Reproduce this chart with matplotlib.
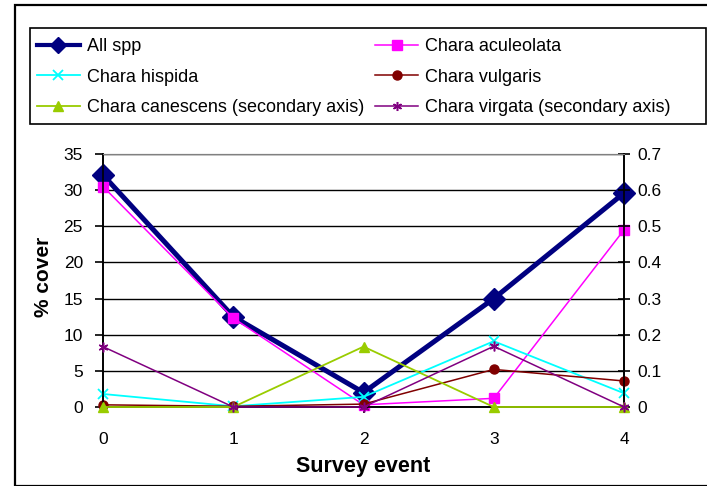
import numpy as np
import matplotlib
matplotlib.use("Agg")
import matplotlib.pyplot as plt
from matplotlib.patches import Rectangle
from matplotlib.lines import Line2D
from matplotlib.ticker import MultipleLocator, FuncFormatter

plt.rcParams['font.family'] = ['Liberation Sans', 'DejaVu Sans']

# survey events
survey = [0, 1, 2, 3, 4]

# % cover, primary axis
all_spp = [32.1, 12.5, 2.0, 15.0, 29.6]
aculeolata = [30.5, 12.3, 0.3, 1.2, 24.5]
hispida = [1.8, 0.1, 1.4, 9.1, 1.9]
vulgaris = [0.3, 0.1, 0.4, 5.2, 3.6]

# % cover, secondary axis
canescens = [0.0, 0.0, 0.167, 0.0, 0.0]
virgata = [0.167, 0.0, 0.0, 0.168, 0.0]

W, H = 707, 486
fig = plt.figure(figsize=(W / 100, H / 100), dpi=100)
ax = fig.add_axes([103 / W, 1 - 407 / H, (624 - 103) / W, (407 - 154) / H])
ax2 = ax.twinx()

# outer chart border and legend box
fig.patches.append(Rectangle((15 / W, 0.5 / H), 1.0, 1 - 5.5 / H, transform=fig.transFigure,
                             fill=False, edgecolor='black', linewidth=1.6))
fig.patches.append(Rectangle((30 / W, 1 - 124 / H), (706 - 30) / W, (124 - 28) / H,
                             transform=fig.transFigure, fill=False, edgecolor='black',
                             linewidth=1.2))

styles = [
    dict(color='#000080', lw=3.6, marker='D', ms=11, label='All spp'),
    dict(color='#FF00FF', lw=1.1, marker='s', ms=6.5, label='Chara aculeolata'),
    dict(color='#00FFFF', lw=1.3, marker='x', ms=6.5, mew=1.3, label='Chara hispida'),
    dict(color='#800000', lw=1.1, marker='o', ms=6.5, label='Chara vulgaris'),
    dict(color='#99CC00', lw=1.3, marker='^', ms=7, label='Chara canescens (secondary axis)'),
    dict(color='#800080', lw=1.1, marker=(6, 2, 0), ms=7, mew=1.1,
         label='Chara virgata (secondary axis)'),
]
series = [all_spp, aculeolata, hispida, vulgaris, canescens, virgata]
axes_for = [ax, ax, ax, ax, ax2, ax2]

for i, (vals, st, a) in enumerate(zip(series, styles, axes_for)):
    a.plot(survey, vals, clip_on=False, zorder=3 if i == 0 else 4, **st)

ax.set_xlim(0, 4)
ax.set_ylim(0, 35)
ax2.set_ylim(0, 0.7)
ax.xaxis.set_major_locator(MultipleLocator(1))
ax.yaxis.set_major_locator(MultipleLocator(5))
ax2.yaxis.set_major_locator(MultipleLocator(0.1))
ax2.yaxis.set_major_formatter(FuncFormatter(lambda v, p: '%g' % round(v, 2)))

ax.grid(axis='y', color='black', lw=1.0)
ax.set_axisbelow(True)
for a in (ax, ax2):
    a.spines['top'].set_color('#808080')
    a.spines['left'].set_linewidth(1.2)
    a.spines['right'].set_linewidth(1.2)
    a.spines['bottom'].set_linewidth(1.2)
    a.set_facecolor('none')

ax.tick_params(axis='y', direction='out', length=5.8, width=1.2, pad=8.6, labelsize=12.5)
ax.tick_params(axis='x', direction='out', length=4, width=1.2, pad=14, labelsize=12.5)
ax2.tick_params(axis='y', direction='inout', length=8.6, width=1.2, pad=5, labelsize=12.5)

ax.set_xlabel('Survey event', fontsize=15.5, fontweight='bold')
ax.xaxis.set_label_coords(0.5, -0.195)
ax.set_ylabel('% cover', fontsize=15, fontweight='bold')
ax.yaxis.set_label_coords(-0.096, 0.514)

# legend proxies with smaller markers, filled row by row
proxy = []
for st in styles:
    kw = dict(st)
    kw['ms'] = 8 if kw['marker'] == 'D' else 6.5
    if kw['marker'] == 'D':
        kw['lw'] = 3.0
    proxy.append(Line2D([], [], **kw))
order = [0, 2, 4, 1, 3, 5]
leg = fig.legend([proxy[i] for i in order], [styles[i]['label'] for i in order],
                 loc='upper left', bbox_to_anchor=(37 / W, 1 - 38 / H),
                 ncol=2, fontsize=13, frameon=False,
                 handlelength=2.38, handletextpad=0.39, labelspacing=0.76,
                 columnspacing=0.61, borderaxespad=0, borderpad=0, numpoints=1)

fig.savefig('out.png', dpi=100)
